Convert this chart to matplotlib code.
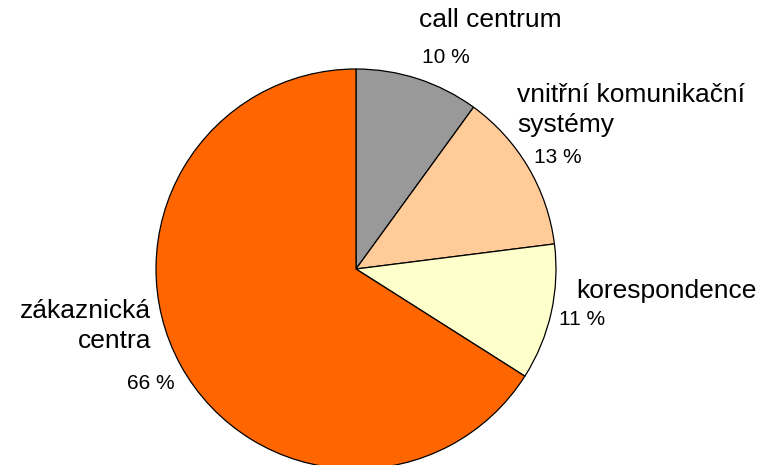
import matplotlib.pyplot as plt

plt.rcParams['font.family'] = ['Liberation Sans', 'DejaVu Sans']

# data
nazvy = ["call centrum", "vnitřní komunikační\nsystémy", "korespondence", "zákaznická\ncentra"]
podily = [10, 13, 11, 66]
barvy = ["#999999", "#FFCC99", "#FFFFCC", "#FF6600"]

fig = plt.figure(figsize=(7.6, 4.65), dpi=100)
ax = fig.add_axes([0, 0, 1, 1])
ax.pie(podily, colors=barvy, startangle=90, counterclock=False, radius=1,
       wedgeprops=dict(edgecolor="black", linewidth=0.9))
# pixel mapping: centre (356, 269), radius 200 px
ax.set_xlim(-356 / 200, (760 - 356) / 200)
ax.set_ylim(-(465 - 269) / 200, 269 / 200)
ax.set_aspect("equal")
ax.axis("off")

def px(x, y):
    return (x - 356) / 200, (269 - y) / 200

# popisky
ax.text(*px(419, 20), nazvy[0], fontsize=19, ha="left", va="center")
ax.text(*px(422, 57), f"{podily[0]} %", fontsize=15, ha="left", va="center")
ax.text(*px(517, 110), nazvy[1], fontsize=19, ha="left", va="center", linespacing=1.3)
ax.text(*px(534, 157), f"{podily[1]} %", fontsize=15, ha="left", va="center")
ax.text(*px(576, 291), nazvy[2], fontsize=19, ha="left", va="center")
ax.text(*px(559, 319), f"{podily[2]} %", fontsize=15, ha="left", va="center")
ax.text(*px(151, 326), nazvy[3], fontsize=19, ha="right", va="center", linespacing=1.3)
ax.text(*px(175, 383), f"{podily[3]} %", fontsize=15, ha="right", va="center")

fig.savefig("out.png", dpi=100)
